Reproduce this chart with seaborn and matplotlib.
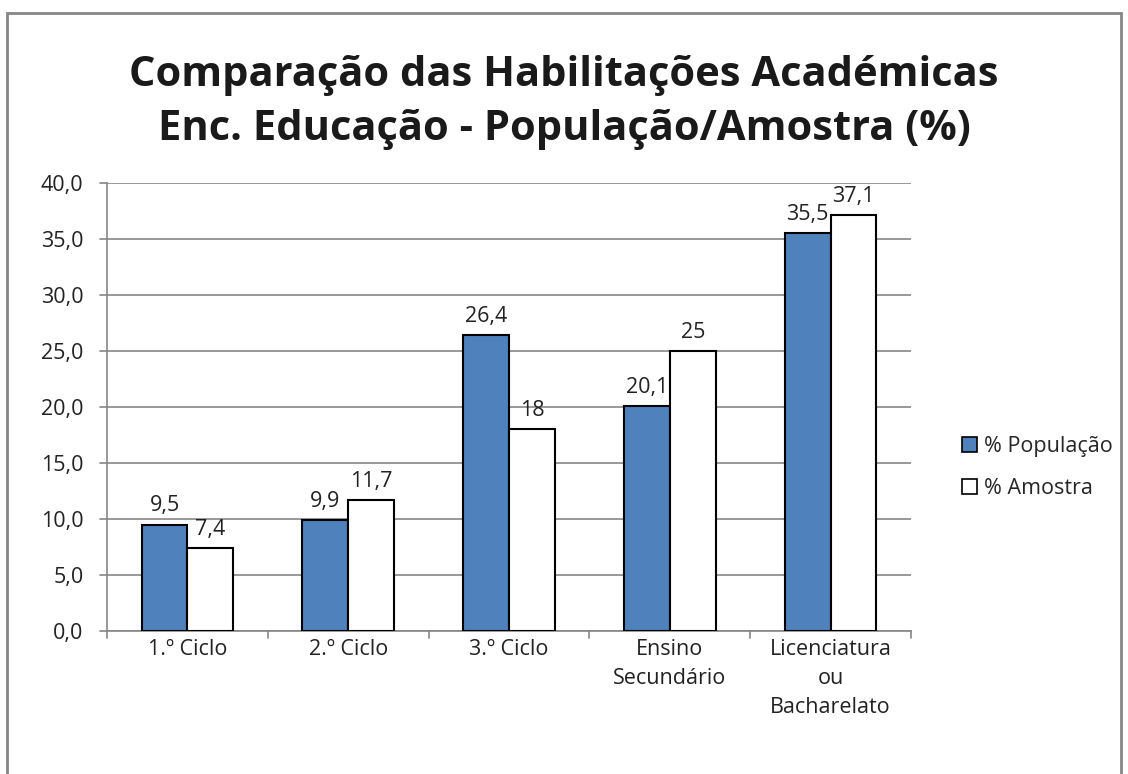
import matplotlib
matplotlib.use("Agg")
import matplotlib.pyplot as plt
import seaborn as sns
import pandas as pd
from matplotlib.patches import Rectangle

categorias = ["1.º Ciclo", "2.º Ciclo", "3.º Ciclo", "Ensino\nSecundário", "Licenciatura\nou\nBacharelato"]
populacao = [9.5, 9.9, 26.4, 20.1, 35.5]
amostra = [7.4, 11.7, 18, 25, 37.1]
rotulos_pop = ["9,5", "9,9", "26,4", "20,1", "35,5"]
rotulos_amo = ["7,4", "11,7", "18", "25", "37,1"]
series = ["% População", "% Amostra"]
yticks = [0, 5, 10, 15, 20, 25, 30, 35, 40]

sns.set_theme(style="white")
plt.rcParams['font.family'] = ['Open Sans', 'DejaVu Sans']

df = pd.DataFrame({
    "cat": categorias * 2,
    "val": populacao + amostra,
    "serie": [series[0]] * 5 + [series[1]] * 5,
})

fig = plt.figure(figsize=(11.28, 7.74), dpi=100)
ax = fig.add_axes([0.0949, 0.1848, 0.7127, 0.5788])

sns.barplot(data=df, x="cat", y="val", hue="serie", order=categorias,
            hue_order=series, palette=["#4f81bd", "#ffffff"], width=0.57,
            saturation=1, edgecolor="black", linewidth=1.5, ax=ax,
            legend=False, zorder=3)

for cont, labs in zip(ax.containers, [rotulos_pop, rotulos_amo]):
    ax.bar_label(cont, labels=labs, padding=6, fontsize=15.5, color="#222222")

ax.set_ylim(0, 40)
ax.set_yticks(yticks)
ax.set_yticklabels([f"{v:.1f}".replace(".", ",") for v in yticks], fontsize=15.5,
                   color="#222222")
ax.set_xlim(-0.5, 4.5)
ax.set_xlabel("")
ax.set_ylabel("")
ax.tick_params(axis="x", labelsize=15.5, pad=6, length=0, labelcolor="#222222")
ax.tick_params(axis="y", length=0, pad=17)
for lab in ax.get_xticklabels():
    lab.set_verticalalignment("top")
    lab.set_linespacing(1.5)
ax.yaxis.grid(True, color="#868686", linewidth=1.2, zorder=0)
for s in ["top", "right"]:
    ax.spines[s].set_visible(False)
ax.spines["left"].set_color("#868686")
ax.spines["bottom"].set_color("#868686")
ax.spines["left"].set_linewidth(1.2)
ax.spines["bottom"].set_linewidth(1.2)
# tick marks
for v in yticks:
    ax.plot([-0.545, -0.5], [v, v], color="#868686", lw=1.2, clip_on=False)
for x in [-0.5, 0.5, 1.5, 2.5, 3.5, 4.5]:
    ax.plot([x, x], [0, -0.6], color="#868686", lw=1.2, clip_on=False)

fig.text(0.5, 1 - 75 / 774, "Comparação das Habilitações Académicas",
         fontsize=30, fontweight="bold", ha="center", va="center", color="#1a1a1a")
fig.text(0.5, 1 - 130 / 774, "Enc. Educação - População/Amostra (%)",
         fontsize=30, fontweight="bold", ha="center", va="center", color="#1a1a1a")

handles = [Rectangle((0, 0), 1, 1, facecolor="#4f81bd", edgecolor="black", lw=1.2),
           Rectangle((0, 0), 1, 1, facecolor="white", edgecolor="black", lw=1.2)]
fig.legend(handles, series, loc="center left", bbox_to_anchor=(0.836, 0.396),
           frameon=False, fontsize=15.5, handlelength=0.7, handleheight=0.7,
           handletextpad=0.3, labelspacing=1.0)

fig.patches.append(Rectangle((0.0062, -0.01), 0.9875, 0.993, transform=fig.transFigure,
                             fill=False, edgecolor="#868686", lw=2))

fig.savefig("out.png", dpi=100)
